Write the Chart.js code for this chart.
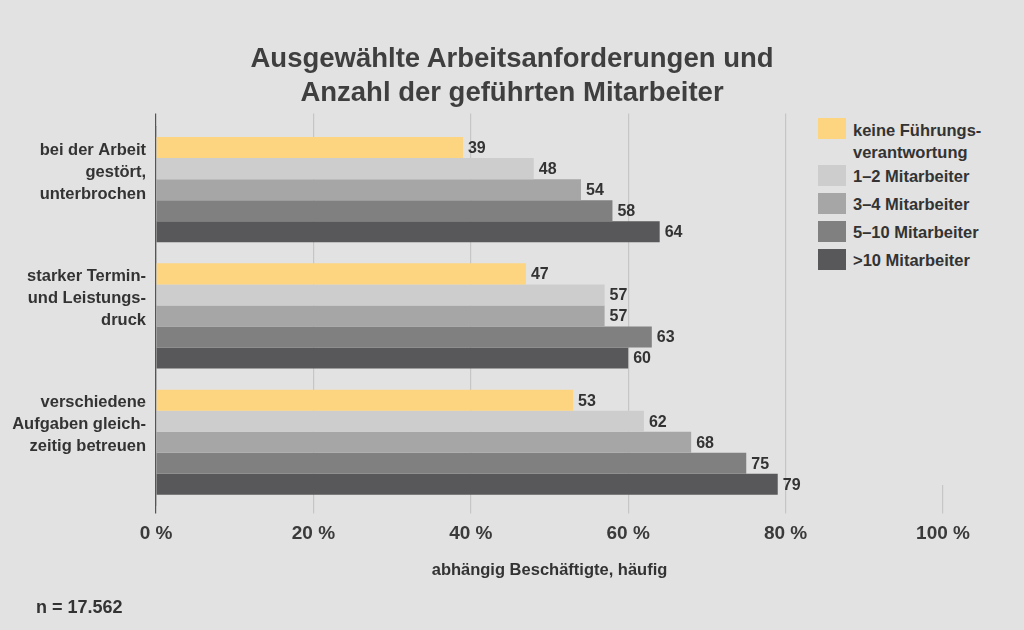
<!DOCTYPE html>
<html lang="de">
<head>
<meta charset="utf-8">
<title>Arbeitsanforderungen</title>
<script src="https://cdn.jsdelivr.net/npm/chart.js@4.4.1/dist/chart.umd.min.js"></script>
<style>
  html, body { margin: 0; padding: 0; background: #e2e2e2; }
  body { font-family: "Liberation Sans", Arial, sans-serif; color: #3a3a3a; }
  #wrap { position: relative; width: 1024px; height: 630px; overflow: hidden; }
  #heading {
    position: absolute; left: 0; top: 41px; width: 1024px;
    text-align: center; font-weight: bold; font-size: 27.5px; line-height: 34px; color: #3f3f3f;
  }
  #legend {
    position: absolute; left: 811px; top: 110px; width: 205px; height: 375px;
    padding-top: 8px; box-sizing: border-box;
    background: #e2e2e2; font-weight: bold; font-size: 16.5px; color: #333;
  }
  .item { display: flex; align-items: flex-start; height: 28px; }
  .item.first { height: 47px; }
  .item .box { width: 28px; height: 21px; margin: 0 7px 0 7px; flex: none; }
  .item .txt { line-height: 22px; margin-top: 0px; white-space: nowrap; }
  .item.first .txt { margin-top: 1px; }
  #note { position: absolute; left: 36px; top: 597px; font-weight: bold; font-size: 18px; line-height: 20px; color: #333; }
</style>
</head>
<body>
<div id="wrap">
  <canvas id="analysisChart"></canvas>
  <div id="heading">Ausgewählte Arbeitsanforderungen und<br>Anzahl der geführten Mitarbeiter</div>
  <div id="legend"></div>
  <div id="note">n = 17.562</div>
</div>
<script>
// data
const categories = [
    ["bei der Arbeit", "gestört,", "unterbrochen"],
    ["starker Termin-", "und Leistungs-", "druck"],
    ["verschiedene", "Aufgaben gleich-", "zeitig betreuen"]
];
const seriesNames = ["keine Führungs-\nverantwortung", "1–2 Mitarbeiter", "3–4 Mitarbeiter", "5–10 Mitarbeiter", ">10 Mitarbeiter"];
const seriesColors = ["#fdd47f", "#cdcdcd", "#a6a6a6", "#808080", "#58585a"];
const keineFuehrung = [39, 47, 53];
const mitarbeiter1bis2 = [48, 57, 62];
const mitarbeiter3bis4 = [54, 57, 68];
const mitarbeiter5bis10 = [58, 63, 75];
const mitarbeiterUeber10 = [64, 60, 79];
const xTicks = [0, 20, 40, 60, 80, 100];

const seriesValues = [keineFuehrung, mitarbeiter1bis2, mitarbeiter3bis4, mitarbeiter5bis10, mitarbeiterUeber10];
const FONT = "'Liberation Sans', Arial, sans-serif";

/* ===================== LEGEND ===================== */
function renderLegend() {
    const legend = document.getElementById("legend");
    seriesNames.forEach((name, i) => {
        const item = document.createElement("div");
        item.className = i === 0 ? "item first" : "item";
        const box = document.createElement("div");
        box.className = "box";
        box.style.background = seriesColors[i];
        const txt = document.createElement("div");
        txt.className = "txt";
        txt.innerHTML = name.replace("\n", "<br>");
        item.appendChild(box);
        item.appendChild(txt);
        legend.appendChild(item);
    });
}

// value labels right of each bar
const valueLabels = {
    id: "valueLabels",
    afterDatasetsDraw(chart) {
        const ctx = chart.ctx;
        ctx.save();
        ctx.font = "bold 16px " + FONT;
        ctx.fillStyle = "#333";
        ctx.textAlign = "left";
        ctx.textBaseline = "middle";
        chart.data.datasets.forEach((ds, i) => {
            chart.getDatasetMeta(i).data.forEach((bar, j) => {
                ctx.fillText(String(ds.data[j]), bar.x + 5, bar.y + 1);
            });
        });
        ctx.restore();
    }
};

const gridColor = ctx => (ctx.tick && ctx.tick.value === 0) ? "#555" : "#c6c6c6";

/* ===================== BAR CHART ===================== */
function renderBarChart() {
    const ctx = document.getElementById("analysisChart").getContext("2d");
    new Chart(ctx, {
        type: "bar",
        data: {
            labels: categories,
            datasets: seriesValues.map((vals, i) => ({
                label: seriesNames[i].replace("\n", ""),
                data: vals,
                backgroundColor: seriesColors[i],
                borderWidth: 0,
                categoryPercentage: 0.833,
                barPercentage: 1
            }))
        },
        options: {
            indexAxis: "y",
            responsive: true,
            maintainAspectRatio: false,
            animation: false,
            layout: { padding: { top: 113.5, left: 0, right: 81, bottom: 46 } },
            plugins: {
                legend: { display: false },
                title: { display: false },
                tooltip: { enabled: false }
            },
            scales: {
                x: {
                    position: "bottom",
                    min: 0, max: 100,
                    afterBuildTicks: scale => { scale.ticks = xTicks.map(v => ({ value: v })); },
                    grid: { color: gridColor, lineWidth: 1.2, tickLength: 8 },
                    border: { display: false },
                    ticks: {
                        color: "#3a3a3a",
                        padding: 9,
                        font: { size: 19, weight: "bold", family: FONT },
                        callback: v => v + " %"
                    },
                    title: {
                        display: true,
                        text: "abhängig Beschäftigte, häufig",
                        color: "#333",
                        font: { size: 16.5, weight: "bold", family: FONT },
                        padding: { top: 6, bottom: 4 }
                    }
                },
                x2: {
                    position: "top",
                    min: 0, max: 100,
                    afterBuildTicks: scale => { scale.ticks = xTicks.map(v => ({ value: v })); },
                    grid: { color: gridColor, lineWidth: 1.2, tickLength: 13, drawOnChartArea: false },
                    border: { display: false },
                    ticks: { display: false }
                },
                y: {
                    afterFit: scale => { scale.width = 156; },
                    grid: { display: false, drawTicks: false },
                    border: { display: true, color: "#555", width: 1.2 },
                    ticks: {
                        color: "#333",
                        padding: 10,
                        labelOffset: -17.5,
                        font: { size: 16.5, weight: "bold", family: FONT, lineHeight: 1.33 }
                    }
                }
            }
        },
        plugins: [valueLabels]
    });
}

renderLegend();
renderBarChart();
</script>
</body>
</html>
